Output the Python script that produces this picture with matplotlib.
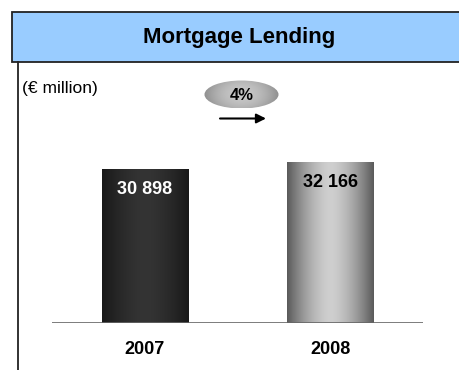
import matplotlib.pyplot as plt
import numpy as np
from matplotlib.patches import Rectangle, Ellipse

plt.rcParams['font.family'] = ['Liberation Sans', 'DejaVu Sans']

years = ['2007', '2008']
values = [30898, 32166]
value_labels = ['30 898', '32 166']
growth = '4%'

W, H = 459, 370
fig = plt.figure(figsize=(W / 100, H / 100), dpi=100)

# main axes in pixel terms: baseline at y=323, x from 52 to 423
ax = fig.add_axes([52 / W, 47 / H, 371 / W, 253 / H])
ax.set_xlim(-0.5, 1.5)
ax.set_ylim(0, 253 * 201)
ax.axis('off')

bw = 0.465
# dark cylinder and silver cylinder shading (edge, middle)
shades = [('#181818', '#343434'), ('#5a5a5a', '#cfcfcf')]
t = np.linspace(-1, 1, 200)
for i, v in enumerate(values):
    edge, mid = [np.array(plt.matplotlib.colors.to_rgb(c)) for c in shades[i]]
    w = (1 - np.abs(t) ** 1.6)[:, None]
    grad = edge * (1 - w) + mid * w
    ax.imshow(grad[None, :, :], extent=(i - bw / 2, i + bw / 2, 0, v),
              aspect='auto', interpolation='bilinear', zorder=2)
ax.set_xlim(-0.5, 1.5)
ax.set_ylim(0, 253 * 201)
ax.axhline(0, color='#666666', lw=1.2, zorder=3)

ax.text(0, values[0] - 20 * 201, value_labels[0], ha='center', va='center',
        color='white', fontsize=13, fontweight='bold', zorder=4)
ax.text(1, values[1] - 20 * 201, value_labels[1], ha='center', va='center',
        color='black', fontsize=13, fontweight='bold', zorder=4)
for i, y in enumerate(years):
    ax.text(i, -26.5 * 201, y, ha='center', va='center', fontsize=13,
            fontweight='bold')

# overlay in pixel coordinates for header, frame line and growth badge
ov = fig.add_axes([0, 0, 1, 1], zorder=5)
ov.set_xlim(0, W)
ov.set_ylim(H, 0)
ov.axis('off')

ov.add_patch(Rectangle((12, 12), 460, 50, facecolor='#99ccff',
                       edgecolor='#222222', lw=1.3, clip_on=False))
ov.text(239, 38, 'Mortgage Lending', ha='center', va='center',
        fontsize=16, fontweight='bold')
ov.plot([17.5, 17.5], [62, H], color='#222222', lw=1.3)
ov.text(22, 89, '(€ million)', ha='left', va='center', fontsize=12.5)

ell = Ellipse((241.5, 94.5), 74, 28, facecolor='none', edgecolor='none')
ov.add_patch(ell)
xx, yy = np.meshgrid(np.linspace(-1, 1, 120), np.linspace(-1, 1, 60))
r = np.clip(xx ** 2 + 0.35 * yy ** 2, 0, 1)
g = 0.78 - 0.22 * r
im = ov.imshow(np.dstack([g, g, g]), extent=(204, 279, 108.5, 80.5),
               aspect='auto', interpolation='bilinear')
im.set_clip_path(ell)
ov.set_xlim(0, W)
ov.set_ylim(H, 0)
ov.text(241.5, 95, growth, ha='center', va='center', fontsize=12,
        fontweight='bold')
ov.annotate('', xy=(266, 118.5), xytext=(220, 118.5),
            arrowprops=dict(arrowstyle='-|>', color='black', lw=1.5,
                            mutation_scale=14, shrinkA=0, shrinkB=0))

fig.savefig('out.png', dpi=100)
